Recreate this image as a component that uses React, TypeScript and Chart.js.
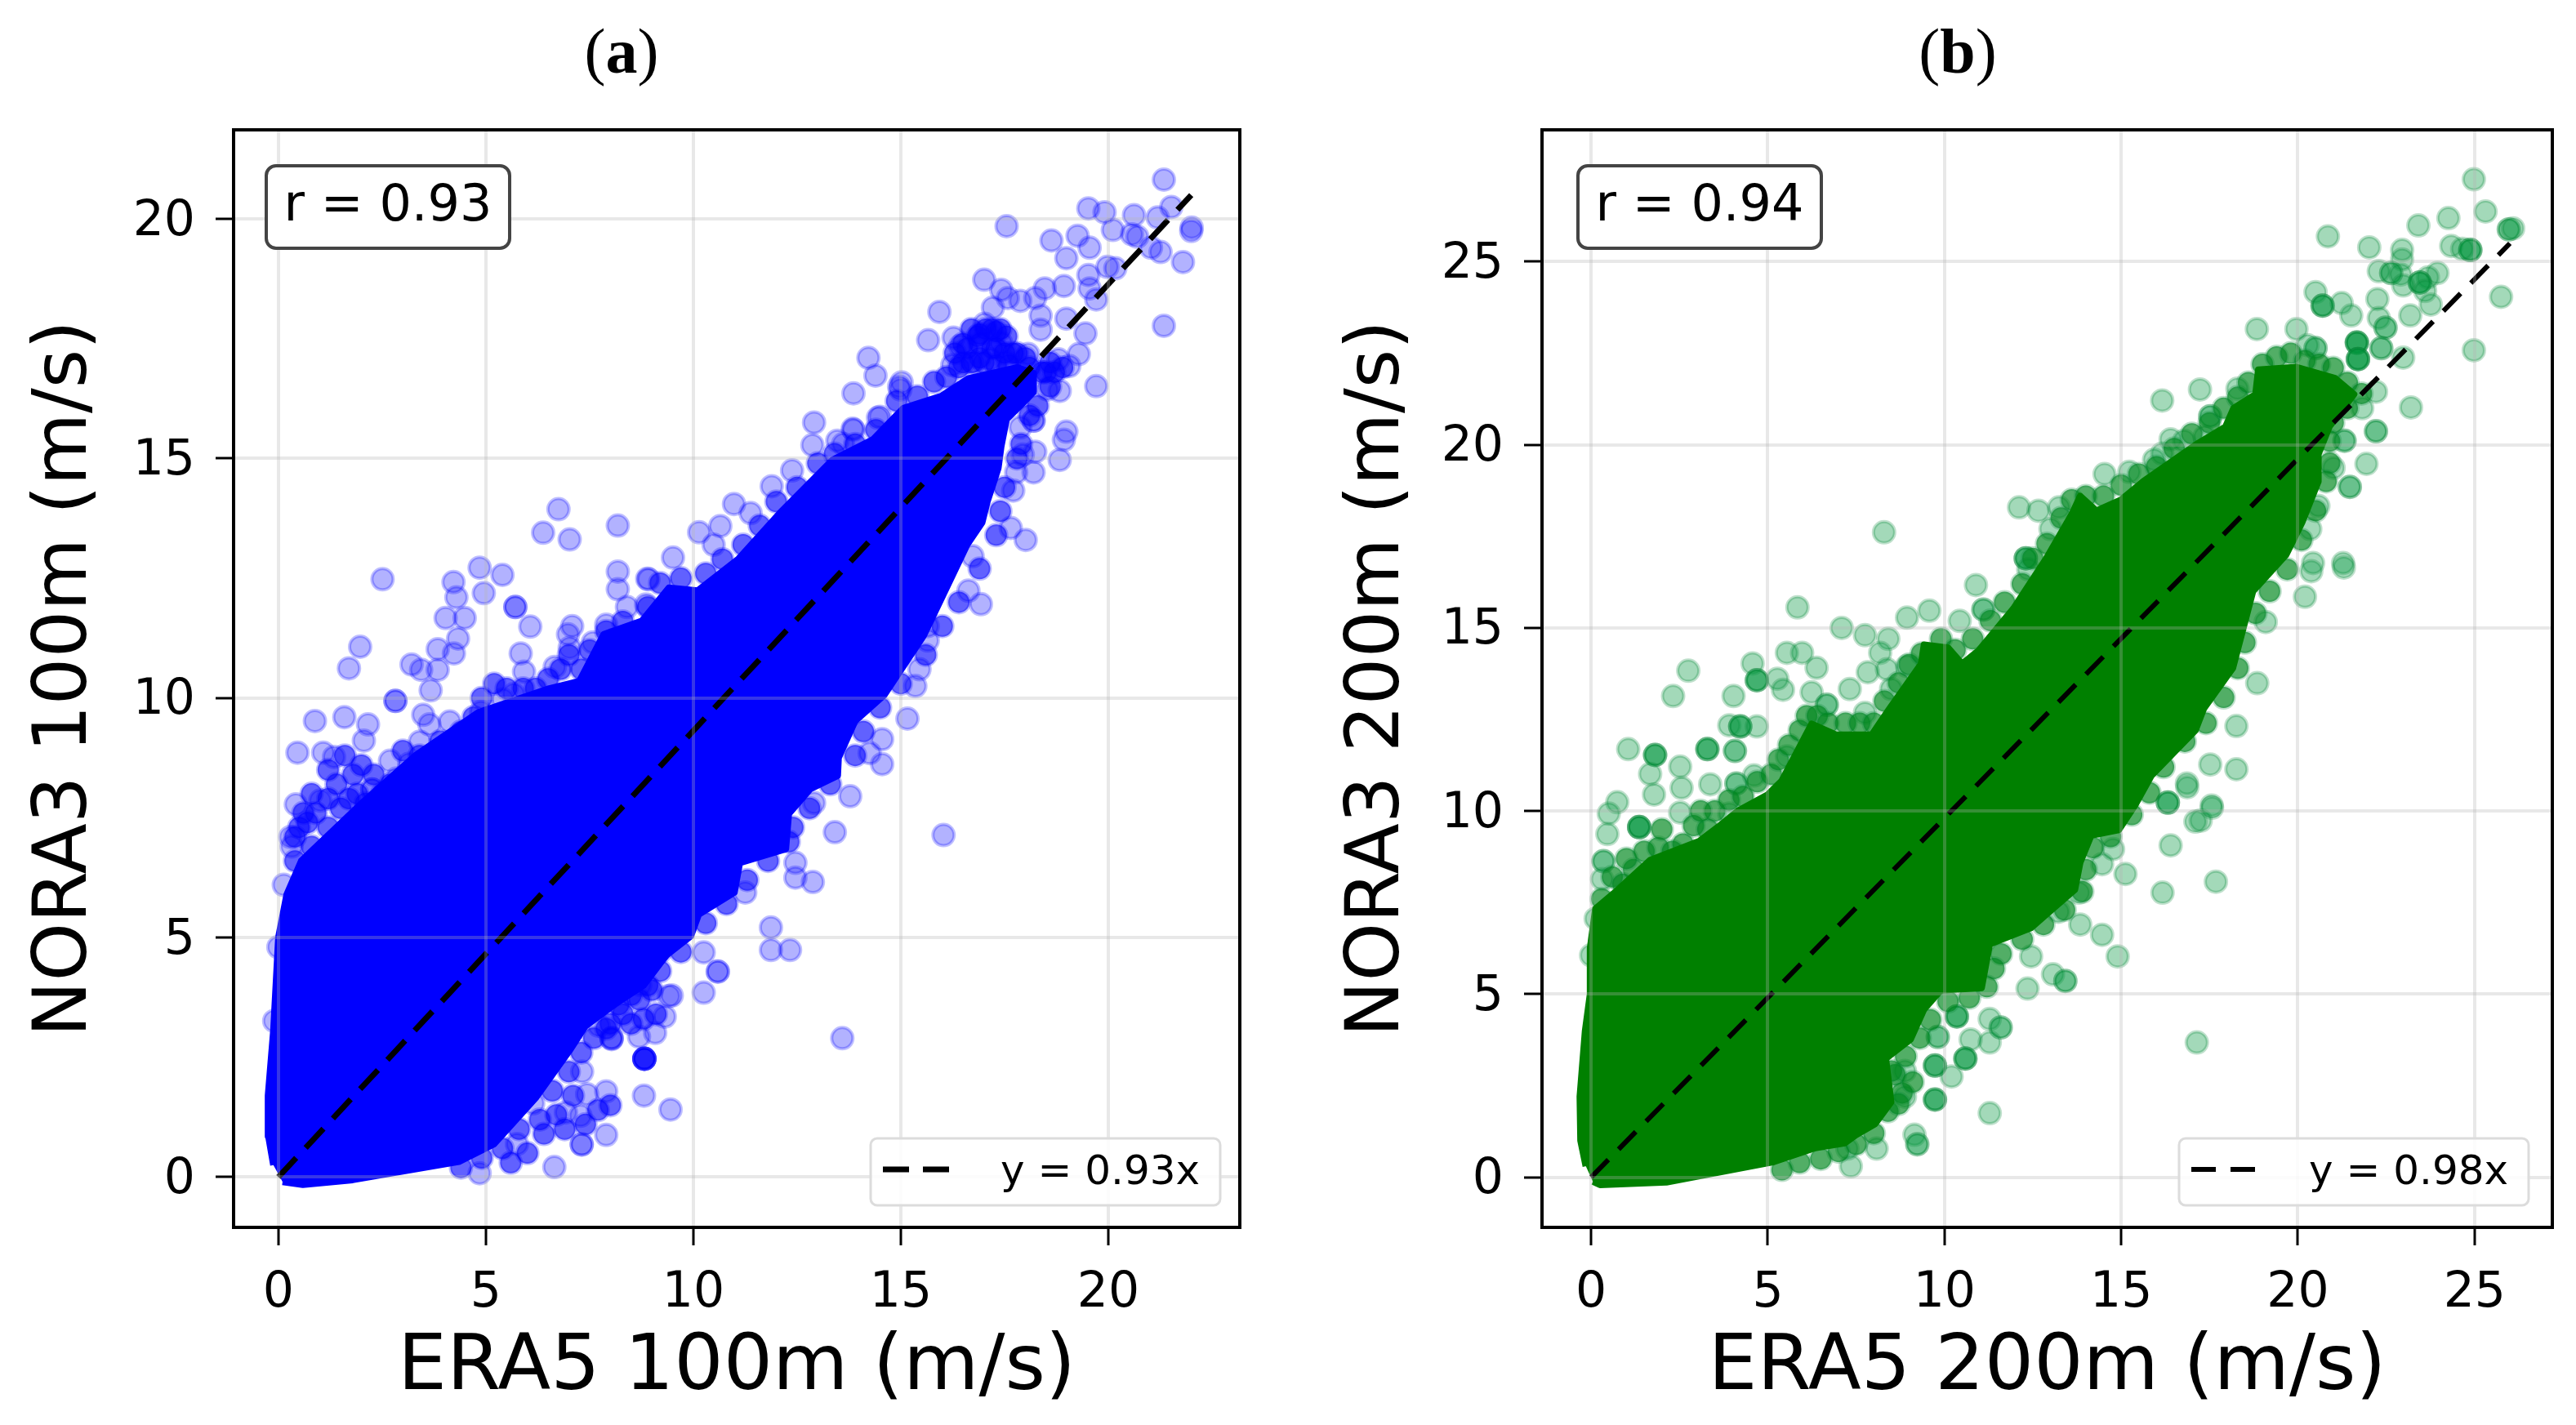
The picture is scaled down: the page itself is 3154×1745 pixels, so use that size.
import React, { useEffect, useRef } from "react";
import { Chart, registerables } from "chart.js";

Chart.register(...registerables);

type XY = [number, number];

const ticksAX = [0, 5, 10, 15, 20];
const ticksAY = [0, 5, 10, 15, 20];
const ticksBX = [0, 5, 10, 15, 20, 25];
const ticksBY = [0, 5, 10, 15, 20, 25];

const fitA: XY[] = [[0, 0], [22, 20.5]];
const fitB: XY[] = [[0, 0], [26, 25.5]];

// Outline of the saturated part of each cloud.
const cloudA: XY[] = [
  [-0.12, 0.25], [-0.24, 0.85], [-0.25, 1.7], [-0.12, 3.06], [0, 5], [0.2, 5.9], [0.55, 6.6], [2.0, 7.8], [3.3, 8.8], [4.82, 9.7],
  [6.53, 10.2], [7.25, 10.35], [7.84, 11.33], [8.76, 11.61], [9.41, 12.3], [10.1, 12.24], [11.08, 12.9],
  [12.08, 13.86], [13.35, 14.97], [14.33, 15.4], [15.06, 16.05], [15.97, 16.3], [16.63, 16.67], [17.81, 16.9],
  [18.2, 16.78], [18.2, 16.39], [17.88, 16.1], [17.55, 15.82], [17.42, 15.25], [17.35, 14.8], [17.09, 14.11],
  [16.96, 13.66], [16.6, 13.2], [15.55, 11.3], [14.6, 10.06], [13.9, 9.52], [13.5, 8.75], [13.48, 8.38],
  [12.82, 8.1], [12.3, 7.58], [12.23, 6.85], [11.12, 6.56], [10.99, 5.94], [10.13, 5.48], [9.94, 5.03],
  [9.35, 4.63], [8.8, 4.0], [8.1, 3.6], [7.4, 3.15], [7.05, 2.68], [6.2, 1.65], [5.2, 0.69], [4.35, 0.32],
  [1.79, -0.06], [0.59, -0.16], [0.1, -0.1],
];

const cloudB: XY[] = [
  [-0.15, 0.3], [-0.3, 1.0], [-0.32, 2.2], [-0.17, 4.0], [-0.03, 5.0], [-0.03, 6.25], [0.12, 7.33], [0.66, 7.77], [1.67, 8.66], [3.06, 9.18],
  [3.68, 9.63], [4.15, 10.0], [5.0, 10.45], [5.39, 10.82], [6.24, 12.38], [6.94, 12.08], [7.94, 12.08], [8.41, 12.75],
  [9.34, 14.02], [9.42, 14.54], [10.1, 14.46], [10.5, 14.02], [10.97, 14.39], [11.95, 15.53], [12.88, 16.9],
  [13.6, 18.1], [13.84, 18.6], [14.3, 18.2], [15, 18.5], [15.62, 19.0], [17.17, 20.04], [17.95, 20.49], [18.18, 21.0],
  [18.8, 21.38], [18.88, 22.05], [19.96, 22.12], [21.05, 21.82], [21.59, 21.38], [20.89, 20.49], [20.58, 19.74],
  [20.58, 19.0], [20.12, 17.88], [19.67, 17.0], [18.73, 16.0], [18.16, 13.9], [17.34, 12.8], [17.1, 12.2],
  [15.86, 10.97], [15.39, 10.15], [14.93, 9.48], [14.15, 9.33], [13.84, 8.59], [13.69, 7.85], [13.07, 7.33],
  [12.45, 6.81], [11.67, 6.51], [11.28, 6.36], [11.05, 5.17], [9.89, 5.1], [9.42, 4.58], [9.04, 3.76], [8.34, 3.24],
  [8.49, 2.05], [8.03, 1.45], [7.49, 1.15], [7.18, 0.93], [6.34, 0.8], [5.17, 0.42], [2.13, -0.14], [0.25, -0.21],
  [0.05, -0.12],
];

const scatterA: XY[] = [
  [21.34, 20.82], [17.55, 19.85], [19.52, 20.22], [19.91, 20.14], [20.62, 20.08], [21.52, 20.25], [21.19, 20.03],
  [22.01, 19.82], [22.0, 19.75], [18.63, 19.55], [19.26, 19.65], [19.55, 19.4], [18.99, 19.18], [20.11, 19.77],
  [20.57, 19.68], [20.7, 19.63], [21.03, 19.4], [21.26, 19.31], [21.8, 19.1], [21.34, 17.77], [17.01, 18.73],
  [15.93, 18.06], [15.66, 17.47], [14.22, 17.1], [14.39, 16.73], [13.86, 16.36], [15.02, 16.59], [14.99, 16.44],
  [19.71, 16.51], [18.83, 16.41], [18.53, 16.44], [18.93, 18.6], [18.47, 18.55], [18.24, 18.35], [17.88, 18.29],
  [17.58, 18.35], [17.42, 18.52], [17.22, 18.15], [18.37, 17.98], [18.37, 17.69], [19.52, 18.83], [19.55, 18.55],
  [19.98, 19.0], [20.17, 18.97], [19.71, 18.32], [18.99, 17.92], [19.45, 17.61], [19.29, 17.18], [19.06, 16.93],
  [18.8, 17.07], [18.07, 17.18], [16.27, 17.52], [17.02, 17.81], [17.42, 17.41], [16.43, 17.35], [16.24, 16.95],
  [17.16, 17.07], [16.76, 17.01], [17.55, 17.01], [18.2, 15.79], [18.2, 15.79], [18.99, 15.56], [18.93, 15.39],
  [18.83, 14.97], [18.24, 15.14], [17.94, 15.08], [18.2, 14.71], [17.78, 14.71], [17.71, 14.33], [17.65, 13.55],
  [18.01, 13.3], [14.5, 15.87], [13.84, 15.62], [13.61, 15.3], [17.88, 15.65],
  [2.51, 12.48], [4.22, 12.42], [4.85, 12.72], [5.4, 12.57], [4.95, 12.19], [4.29, 12.1], [4.03, 11.67], [4.49, 11.67],
  [5.71, 11.9], [5.71, 11.9], [6.07, 11.49], [6.38, 13.45], [7.02, 13.31], [6.75, 13.94], [8.18, 13.6], [8.18, 12.64],
  [8.18, 12.27], [8.89, 12.49], [8.4, 11.9], [4.33, 11.24], [3.84, 11.02], [4.23, 10.93], [3.21, 10.7], [3.84, 10.59],
  [3.44, 10.59], [1.97, 11.07], [1.7, 10.62], [3.67, 10.16], [2.82, 9.94], [2.82, 9.94], [0.88, 9.52], [1.59, 9.6],
  [2.16, 9.45], [3.49, 9.65], [3.64, 9.45], [4.13, 9.51], [3.41, 9.09], [2.06, 9.11], [0.46, 8.86], [1.34, 8.77],
  [1.08, 8.86], [2.69, 8.69], [3.15, 8.63], [2.26, 8.09], [2.26, 8.09], [2.85, 8.32], [0.42, 7.78], [1.01, 7.86],
  [0.29, 7.1], [0.32, 6.9], [0.13, 6.1], [5.84, 10.93], [5.92, 10.55], [6.98, 11.33], [7.02, 11.05], [6.66, 10.65],
  [7.58, 11.16], [7.9, 11.53], [8.1, 11.22], [6.2, 9.63], [5.41, 9.97], [5.67, 10.08], [4.88, 9.71], [7.08, 11.5],
  [8.86, 11.95], [10.14, 13.46], [10.65, 13.59], [10.49, 13.2], [9.51, 12.93], [8.92, 12.48], [10.98, 14.05],
  [11.38, 13.86], [11.89, 14.42], [12.38, 14.75], [12.91, 15.75], [12.87, 15.28], [13.86, 15.6], [14.45, 15.85],
  [13.47, 15.37], [14.96, 16.5],
  [13.78, 7.95], [12.91, 7.81], [13.41, 7.2], [16.03, 7.14], [12.46, 6.56], [12.46, 6.25], [12.88, 6.16], [11.25, 5.94],
  [11.87, 5.21], [11.87, 4.74], [12.33, 4.74], [10.25, 4.69], [10.59, 4.29], [10.59, 4.29], [10.25, 3.85], [9.48, 3.79],
  [9.31, 3.35], [9.08, 3.01], [8.03, 2.9], [8.03, 2.9], [8.69, 2.93], [8.82, 2.47], [8.82, 2.47], [8.82, 2.47],
  [8.82, 2.47], [8.82, 2.47], [8.82, 2.47], [13.59, 2.9], [8.81, 1.7], [9.45, 1.41], [7.9, 1.79], [7.44, 1.73],
  [7.28, 1.28], [7.9, 0.88], [7.31, 0.68], [7.31, 0.68], [6.65, 0.21], [4.85, 0.08], [5.75, 0.69], [7.32, 2.2],
  [8.03, 2.88], [9.41, 3.78], [8.72, 4.01], [7.72, 3.16], [6.14, 1.54], [6.93, 1.35], [0, 4.8], [-0.1, 3.26],
  [14.55, 9.14], [14.55, 8.62], [15.16, 9.57], [14.25, 8.85], [15.35, 10.25], [15.45, 10.6], [16.93, 11.96],
  [16.63, 12.24], [16.73, 12.96], [15.65, 11.2], [15.65, 11.5],
];

// Points packed along the edge of the saturated cloud.
const fringeA: XY[] = [
  [0.4, 6.6], [0.8, 6.9], [0.5, 7.3], [1.2, 7.3], [0.9, 7.6], [1.5, 7.7], [1.9, 8.0], [1.4, 8.2], [1.8, 8.4], [2.3, 8.4],
  [2.7, 8.2], [3.0, 8.9], [3.4, 8.8], [3.9, 9.1], [3.7, 8.8], [4.4, 9.3], [4.7, 9.6], [4.9, 10.0], [5.2, 10.3], [5.5, 10.2],
  [5.9, 10.2], [6.2, 10.2], [6.5, 10.4], [6.8, 10.6], [7.0, 10.9], [7.3, 10.6], [7.5, 11.0], [7.9, 11.4], [8.3, 11.6],
  [8.9, 11.9], [9.2, 12.4], [9.7, 12.5], [10.3, 12.6], [10.7, 12.9], [11.2, 13.2], [11.6, 13.6], [12.0, 14.1], [12.5, 14.4],
  [13.0, 14.9], [13.4, 15.1], [13.9, 15.3], [14.4, 15.6], [14.9, 16.2], [15.4, 16.3], [15.8, 16.6], [16.1, 16.7], [16.5, 17.0],
  [16.9, 17.1], [17.3, 17.3], [17.7, 17.2], [16.5, 17.4], [16.9, 17.6], [17.2, 17.7], [16.7, 17.7], [17.4, 17.7], [18.0, 17.1],
  [18.5, 16.8], [18.6, 16.5], [18.3, 16.1], [18.1, 15.9], [17.9, 15.3], [17.8, 15.0], [17.5, 14.4], [17.4, 13.9], [17.3, 13.4],
  [16.9, 12.7], [16.4, 12.0], [16.0, 11.5], [15.6, 10.9], [15.0, 10.3], [14.5, 9.8], [14.1, 9.3], [13.9, 8.8], [13.3, 8.2],
  [12.8, 7.7], [12.4, 7.3], [12.3, 7.0], [11.8, 6.6], [11.3, 6.2], [10.8, 5.7], [10.3, 5.3], [9.7, 4.7], [9.2, 4.3], [8.9, 4.0],
  [8.5, 3.8], [8.3, 3.4], [8.0, 3.2], [7.6, 2.9], [7.3, 2.6], [7.0, 2.2], [6.6, 1.8], [6.3, 1.2], [5.8, 1.0], [5.4, 0.6],
  [4.9, 0.4], [4.4, 0.2], [8.6, 4.6], [8.9, 4.5], [9.2, 4.7], [8.4, 4.1], [8.7, 3.7], [9.0, 3.9], [9.1, 3.4], [8.8, 3.3],
  [8.5, 3.2], [8.2, 3.6], [7.9, 3.1], [8.0, 1.5], [7.7, 1.4], [7.4, 1.1], [6.9, 1.0], [7.1, 1.7], [6.7, 1.3], [6.4, 0.9],
  [6.0, 0.5], [5.6, 0.3], [1.6, 8.8], [1.2, 8.5], [2.0, 8.6], [2.5, 8.0], [2.1, 7.8], [0.7, 7.4], [0.4, 7.1], [0.8, 8.0],
  [1.2, 7.9], [0.6, 7.6], [1.7, 7.9], [16.3, 17.2], [16.6, 17.3], [16.9, 17.4], [17.2, 17.3], [17.5, 17.2], [17.8, 17.2],
  [16.4, 16.9], [16.7, 17.0], [17.0, 17.0], [17.3, 16.95], [17.6, 16.95], [17.05, 17.7], [17.3, 17.65], [17.55, 17.55],
  [16.85, 17.55], [18.6, 17.0], [18.9, 16.9], [18.7, 16.8], [18.4, 16.8], [18.1, 16.9],
];

const scatterB: XY[] = [
  [24.98, 27.25], [25.31, 26.37], [25.97, 25.88], [25.97, 25.88], [26.09, 25.91], [24.26, 26.19], [23.41, 25.99],
  [20.85, 25.69], [22.02, 25.39], [24.34, 25.43], [24.88, 25.32], [24.88, 25.32], [24.88, 25.32], [24.65, 25.35],
  [22.95, 25.32], [22.95, 25.06], [22.29, 24.74], [22.64, 24.69], [22.64, 24.69], [22.91, 24.65], [23.95, 24.69],
  [23.68, 24.57], [23.45, 24.43], [23.45, 24.43], [23.45, 24.43], [23.6, 24.2], [22.98, 24.35], [23.76, 23.83],
  [25.75, 24.04], [24.98, 22.58], [23.18, 23.53], [22.25, 23.98], [22.29, 23.46], [22.48, 23.2], [22.48, 23.2],
  [20.5, 24.17], [20.7, 23.8], [20.7, 23.8], [20.7, 23.8], [21.24, 23.87], [21.51, 23.53], [18.84, 23.16], [19.96, 23.16],
  [20.5, 22.64], [20.5, 22.64], [20.27, 22.72], [21.67, 22.79], [21.67, 22.79], [21.67, 22.79], [21.67, 22.79],
  [21.7, 22.34], [21.7, 22.34], [21.7, 22.34], [21.7, 22.34], [22.36, 22.64], [22.36, 22.64], [22.98, 22.38],
  [22.21, 21.45], [21.82, 21.0], [23.2, 21.02], [17.23, 21.51], [16.16, 21.21], [18.29, 21.53], [17.52, 20.78],
  [17.52, 20.78], [16.4, 20.15], [16.78, 20.11], [17.36, 20.22], [15.93, 19.59], [22.21, 20.37], [22.21, 20.37],
  [21.32, 20.11], [21.32, 20.11], [21.94, 19.48], [21.01, 19.37], [21.47, 18.85], [21.47, 18.85], [20.58, 18.33],
  [20.35, 17.7], [21.28, 16.77], [20.43, 16.77],
  [8.29, 17.61], [5.84, 15.56], [7.09, 15.0], [8.94, 15.28], [9.57, 15.47], [10.43, 15.19], [10.89, 16.17], [7.75, 14.8],
  [8.41, 14.7], [8.18, 14.32], [5.54, 14.32], [5.97, 14.32], [6.38, 13.91], [4.57, 14.03], [2.75, 13.83], [2.32, 13.14],
  [4.03, 13.14], [4.69, 13.57], [4.69, 13.57], [4.69, 13.57], [5.27, 13.61], [5.43, 13.31], [6.24, 13.24], [6.67, 12.9],
  [6.67, 12.9], [7.32, 13.33], [7.83, 13.79], [8.37, 13.87], [8.94, 13.96], [8.49, 13.33], [7.75, 12.68], [9.73, 14.24],
  [9.73, 14.24], [9.73, 14.24], [9.73, 14.24], [3.91, 12.34], [4.22, 12.31], [4.22, 12.31], [4.22, 12.31], [4.69, 12.31],
  [4.07, 11.64], [4.07, 11.64], [3.29, 11.69], [3.29, 11.69], [3.29, 11.69], [1.05, 11.69], [1.81, 11.53], [1.81, 11.53],
  [1.81, 11.53], [2.52, 11.21], [1.67, 11.01], [3.37, 10.73], [4.11, 10.75], [4.11, 10.75], [4.61, 10.97], [5.54, 11.49],
  [2.56, 10.63], [1.78, 10.45], [0.74, 10.24], [0.5, 9.93], [2.52, 9.96], [3.91, 9.93], [0.46, 9.37], [1.36, 9.56],
  [1.36, 9.56], [1.36, 9.56], [1.36, 9.56], [0.35, 8.63], [0.35, 8.63], [0.31, 8.14], [0, 6.06], [0.13, 7.06],
  [16.4, 9.06], [15.12, 8.28], [14.46, 8.55], [16.17, 7.77], [17.68, 8.07], [16.32, 10.23], [16.32, 10.23], [16.32, 10.23],
  [17.25, 9.74], [17.56, 10.15], [16.86, 10.75], [14.77, 8.96], [13.84, 6.9], [14.46, 6.62], [14.9, 6.03], [13.8, 7.77],
  [13.22, 7.25], [12.45, 6.03], [13.07, 5.54], [13.42, 5.36], [13.42, 5.36], [12.35, 5.15], [11.28, 4.32], [11.59, 4.09],
  [11.59, 4.09], [10.35, 4.39], [10.35, 4.39], [10.35, 4.39], [10.74, 3.76], [11.28, 3.68], [10.59, 3.24], [10.59, 3.24],
  [10.59, 3.24], [9.81, 3.83], [9.81, 3.83], [9.73, 3.05], [9.73, 3.05], [9.73, 3.05], [10.2, 2.75], [9.73, 2.12],
  [9.73, 2.12], [9.73, 2.12], [11.28, 1.75], [17.14, 3.68], [8.88, 2.9], [8.88, 2.2], [9.15, 1.16], [9.23, 0.9], [9.23, 0.9],
  [8.08, 0.78], [7.35, 0.3], [7.25, 0.78],
  [12.11, 18.29], [12.66, 18.2], [13.24, 18.29], [12.3, 16.9], [12.3, 16.9], [12.3, 16.9], [11.1, 15.5], [11.1, 15.5],
  [14.53, 19.2], [15.23, 19.26], [16.16, 19.76], [13.0, 17.7], [12.37, 16.6], [18.26, 12.32], [18.26, 11.14], [17.52, 11.27],
  [17.57, 10.09], [16.87, 10.65], [17.1, 9.71], [18.85, 13.49], [20.38, 16.55], [21.3, 16.65], [20.2, 15.85], [19.09, 15.16],
];

const fringeB: XY[] = [
  [0.3, 7.6], [0.6, 8.2], [0.9, 8.0], [1.2, 8.4], [1.0, 8.7], [1.5, 8.9], [1.9, 9.0], [2.3, 8.9], [2.6, 9.1], [2.0, 9.5],
  [2.9, 9.6], [3.3, 9.5], [3.5, 10.0], [3.1, 10.0], [3.9, 10.3], [4.3, 10.4], [4.7, 10.8], [5.1, 11.0], [5.3, 11.4], [5.6, 11.8],
  [5.9, 12.2], [6.1, 12.6], [6.4, 12.6], [6.7, 12.4], [7.2, 12.4], [7.6, 12.4], [8.0, 12.4], [8.3, 13.0], [8.7, 13.5], [9.0, 14.0],
  [9.35, 14.3], [9.9, 14.7], [10.3, 14.4], [10.8, 14.7], [11.3, 15.2], [11.7, 15.7], [12.2, 16.2], [12.5, 16.9], [12.9, 17.3],
  [13.3, 18.0], [13.6, 18.5], [14.0, 18.6], [14.5, 18.6], [15.0, 18.9], [15.5, 19.2], [16.0, 19.4], [16.5, 19.9], [17.0, 20.3],
  [17.5, 20.6], [17.9, 21.0], [18.3, 21.3], [18.6, 21.7], [19.0, 22.2], [19.4, 22.4], [19.8, 22.5], [20.2, 22.3], [20.6, 22.2],
  [21.0, 22.1], [21.4, 21.7], [21.8, 21.4], [21.4, 21.0], [21.0, 20.6], [20.9, 20.1], [20.9, 19.5], [20.8, 19.0], [20.5, 18.2],
  [20.1, 17.4], [19.7, 16.6], [19.2, 16.0], [18.8, 15.4], [18.5, 14.6], [18.3, 13.9], [17.9, 13.1], [17.4, 12.4], [16.8, 11.9],
  [16.2, 11.2], [15.8, 10.5], [15.3, 9.9], [14.7, 9.3], [14.2, 9.0], [14.0, 8.4], [13.9, 7.8], [13.4, 7.3], [12.8, 6.9], [12.2, 6.5],
  [11.6, 6.1], [11.4, 5.7], [11.2, 5.2], [10.7, 4.9], [10.1, 4.8], [9.6, 4.3], [9.3, 3.8], [8.9, 3.3], [8.6, 2.8], [8.8, 2.3],
  [8.4, 1.8], [8.0, 1.2], [7.5, 0.9], [7.0, 0.7], [6.5, 0.5], [5.9, 0.4], [5.4, 0.2], [8.5, 2.9], [9.1, 2.6], [8.7, 2.0],
];

interface Panel {
  letter: string;
  left: number;
  canvasW: number;
  axisW: number;
  padRight: number;
  titlePad: number;
  xRange: [number, number];
  yRange: [number, number];
  xTicks: number[];
  yTicks: number[];
  fit: XY[];
  cloud: XY[];
  scatter: XY[];
  fringe: XY[];
  solid: string;
  dotFill: string;
  dotEdge: string;
  fringeFill: string;
  xTitle: string;
  yTitle: string;
  rText: string;
  fitText: string;
  dash: number[];
  fitWidth: number;
  legendRight: number;
  boxLeft: number;
  centre: number;
}

const panels: Panel[] = [
  {
    letter: "a", left: 0, canvasW: 1577, axisW: 286, padRight: 59, titlePad: 27,
    xRange: [-1.08, 23.17], yRange: [-1.05, 21.86], xTicks: ticksAX, yTicks: ticksAY,
    fit: fitA, cloud: cloudA, scatter: scatterA, fringe: fringeA,
    solid: "#0000ff", dotFill: "rgba(0,0,255,0.3)", dotEdge: "rgba(0,0,255,0.25)", fringeFill: "rgba(0,0,255,0.62)",
    xTitle: "ERA5 100m (m/s)", yTitle: "NORA3 100m (m/s)", rText: "r = 0.93", fitText: "y = 0.93x",
    dash: [32, 17], fitWidth: 7, legendRight: 24, boxLeft: 40, centre: 761,
  },
  {
    letter: "b", left: 1577, canvasW: 1577, axisW: 311, padRight: 29, titlePad: 57,
    xRange: [-1.39, 27.2], yRange: [-1.37, 28.6], xTicks: ticksBX, yTicks: ticksBY,
    fit: fitB, cloud: cloudB, scatter: scatterB, fringe: fringeB,
    solid: "#008000", dotFill: "rgba(0,150,60,0.36)", dotEdge: "rgba(0,130,50,0.25)", fringeFill: "rgba(0,135,30,0.68)",
    xTitle: "ERA5 200m (m/s)", yTitle: "NORA3 200m (m/s)", rText: "r = 0.94", fitText: "y = 0.98x",
    dash: [30, 18], fitWidth: 6, legendRight: 29, boxLeft: 44, centre: 2397,
  },
];

const FONT = "'DejaVu Sans'";
const CANVAS_H = 1745;
const asPoints = (rows: XY[]) => rows.map(([x, y]) => ({ x, y }));

function PanelChart({ p }: { p: Panel }) {
  const ref = useRef<HTMLCanvasElement>(null);
  useEffect(() => {
    const frame = {
      id: "frameAndNotes",
      afterDraw(chart: any) {
        const { ctx, chartArea: a } = chart;
        ctx.save();
        ctx.strokeStyle = "#000";
        ctx.lineWidth = 4;
        ctx.strokeRect(a.left, a.top, a.right - a.left, a.bottom - a.top);

        // r box
        const bx = a.left + p.boxLeft, by = a.top + 44, bw = 298, bh = 101;
        ctx.beginPath();
        ctx.roundRect(bx, by, bw, bh, 12);
        ctx.fillStyle = "#fff";
        ctx.fill();
        ctx.lineWidth = 4;
        ctx.strokeStyle = "#444";
        ctx.stroke();
        ctx.fillStyle = "#000";
        ctx.font = `62px ${FONT}`;
        ctx.textAlign = "center";
        ctx.textBaseline = "middle";
        ctx.fillText(p.rText, bx + bw / 2, by + bh / 2);

        // fit legend
        const lw = 428, lh = 82;
        const lx = a.right - p.legendRight - lw, ly = a.bottom - 27 - lh;
        ctx.beginPath();
        ctx.roundRect(lx, ly, lw, lh, 8);
        ctx.fillStyle = "rgba(255,255,255,0.85)";
        ctx.fill();
        ctx.lineWidth = 3;
        ctx.strokeStyle = "#dcdcdc";
        ctx.stroke();
        ctx.beginPath();
        ctx.setLineDash(p.dash);
        ctx.lineWidth = p.fitWidth;
        ctx.strokeStyle = "#000";
        ctx.moveTo(lx + 15, ly + 38);
        ctx.lineTo(lx + 103, ly + 38);
        ctx.stroke();
        ctx.setLineDash([]);
        ctx.fillStyle = "#000";
        ctx.font = `50px ${FONT}`;
        ctx.textAlign = "left";
        ctx.fillText(p.fitText, lx + 159, ly + 43);
        ctx.restore();
      },
    };

    const axisCommon = (ticks: number[]) => ({
      type: "linear" as const,
      afterBuildTicks: (s: any) => {
        s.ticks = ticks.map((value) => ({ value }));
      },
      grid: {
        z: 1,
        color: "rgba(180,180,180,0.3)",
        lineWidth: 4,
        tickColor: "#000",
        tickWidth: 3,
        tickLength: 22,
      },
      border: { display: false },
    });

    const chart = new Chart(ref.current!, {
      type: "scatter",
      data: {
        datasets: [
          {
            type: "line",
            label: p.fitText,
            data: asPoints(p.fit),
            parsing: false,
            borderColor: "#000",
            borderWidth: p.fitWidth,
            borderDash: p.dash,
            pointRadius: 0,
            fill: false,
            order: 0,
          },
          {
            type: "line",
            label: "cloud",
            data: asPoints(p.cloud),
            parsing: false,
            borderColor: p.solid,
            borderWidth: 8,
            borderJoinStyle: "round",
            backgroundColor: p.solid,
            pointRadius: 0,
            fill: "shape",
            order: 1,
          },
          {
            label: "dense samples",
            data: asPoints(p.fringe),
            backgroundColor: p.fringeFill,
            borderColor: p.dotEdge,
            borderWidth: 4,
            pointRadius: 13,
            order: 2,
          },
          {
            label: "samples",
            data: asPoints(p.scatter),
            backgroundColor: p.dotFill,
            borderColor: p.dotEdge,
            borderWidth: 4,
            pointRadius: 13,
            order: 3,
          },
        ] as any,
      },
      plugins: [frame],
      options: {
        animation: false,
        responsive: false,
        devicePixelRatio: 1,
        layout: { padding: { top: 159, right: p.padRight, left: 0, bottom: 0 } },
        plugins: { legend: { display: false }, tooltip: { enabled: false }, title: { display: false } },
        scales: {
          x: {
            ...axisCommon(p.xTicks),
            min: p.xRange[0],
            max: p.xRange[1],
            afterFit: (s: any) => {
              s.height = 242;
            },
            ticks: { color: "#000", font: { family: FONT, size: 60 }, padding: 23, maxRotation: 0, autoSkip: false },
            title: {
              display: true,
              text: p.xTitle,
              color: "#000",
              font: { family: FONT, size: 95 },
              padding: { top: 0, bottom: 12 },
            },
          },
          y: {
            ...axisCommon(p.yTicks),
            min: p.yRange[0],
            max: p.yRange[1],
            afterFit: (s: any) => {
              s.width = p.axisW;
            },
            ticks: { color: "#000", font: { family: FONT, size: 60 }, padding: 25, labelOffset: 4, autoSkip: false },
            title: {
              display: true,
              text: p.yTitle,
              color: "#000",
              font: { family: FONT, size: 91 },
              padding: { top: p.titlePad, bottom: 0 },
            },
          },
        },
      } as any,
    });
    return () => chart.destroy();
  }, [p]);

  return (
    <canvas
      ref={ref}
      width={p.canvasW}
      height={CANVAS_H}
      style={{ position: "absolute", left: p.left, top: 0, width: p.canvasW, height: CANVAS_H, filter: "blur(0.7px)" }}
    />
  );
}

export default function App() {
  return (
    <div style={{ position: "fixed", left: 0, top: 0, width: 3154, height: 1745, background: "#fff", overflow: "hidden" }}>
      {panels.map((p) => (
        <PanelChart key={p.letter} p={p} />
      ))}
      {panels.map((p) => (
        <div
          key={"t" + p.letter}
          style={{
            position: "absolute",
            left: p.centre - 100,
            width: 200,
            top: 24,
            textAlign: "center",
            font: "78px/78px 'Liberation Serif'",
            color: "#000",
          }}
        >
          (<b>{p.letter}</b>)
        </div>
      ))}
    </div>
  );
}
